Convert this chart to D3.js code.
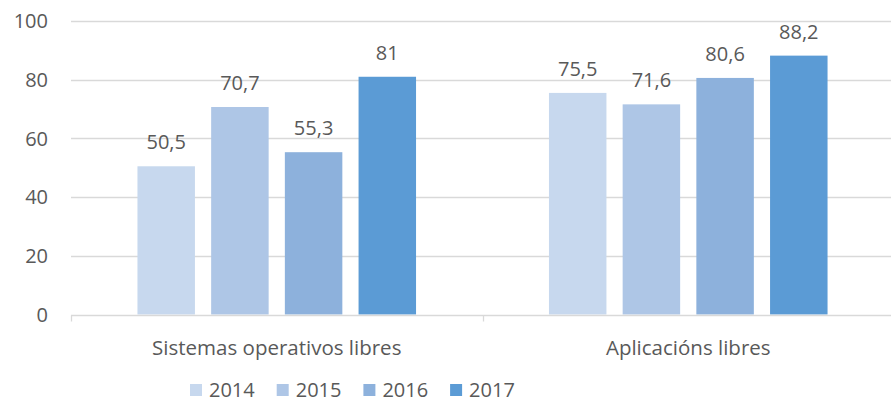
<!DOCTYPE html>
<html>
<head>
<meta charset="utf-8">
<script src="https://cdn.jsdelivr.net/npm/d3@7"></script>
<style>
  body { margin: 0; background: #fff; }
  text { font-family: "Open Sans", "Noto Sans", sans-serif; fill: #595959; }
</style>
</head>
<body>
<script>
var categories = ["Sistemas operativos libres", "Aplicacións libres"];
var years = ["2014", "2015", "2016", "2017"];
var values2014 = [50.5, 75.5];
var values2015 = [70.7, 71.6];
var values2016 = [55.3, 80.6];
var values2017 = [81, 88.2];
var yTicks = [0, 20, 40, 60, 80, 100];
var colors = ["#c7d8ee", "#aec6e6", "#8db1dc", "#5b9bd5"];

var series = [values2014, values2015, values2016, values2017];

var width = 891, height = 404;
var margin = {top: 21, left: 71, right: -3, bottom: 90};

var svg = d3.select("body")
  .append("svg")
  .attr("width", width)
  .attr("height", height);

var x0 = d3.scaleBand()
  .domain(categories)
  .range([margin.left, width - margin.right])
  .paddingInner(0.323)
  .paddingOuter(0.1615);

var x1 = d3.scaleBand()
  .domain(years)
  .range([0, x0.bandwidth()])
  .paddingInner(0.22);

var y = d3.scaleLinear()
  .domain([0, 100])
  .range([314.5, margin.top]);

var fmt = function(v){ return String(v).replace(".", ","); };

// gridlines
svg.append("g")
  .selectAll("line")
  .data(yTicks.filter(d => d > 0))
  .enter()
  .append("line")
  .attr("x1", margin.left)
  .attr("x2", width - margin.right)
  .attr("y1", d => Math.round(y(d)) + 0.5)
  .attr("y2", d => Math.round(y(d)) + 0.5)
  .attr("stroke", "#d9d9d9")
  .attr("stroke-width", 1.3);

// y labels
svg.append("g")
  .selectAll("text")
  .data(yTicks)
  .enter()
  .append("text")
  .attr("x", 48)
  .attr("y", d => y(d))
  .attr("dy", "0.36em")
  .attr("text-anchor", "end")
  .attr("font-size", 20)
  .text(d => d);

// bars
var groups = svg.append("g")
  .selectAll("g")
  .data(categories)
  .enter()
  .append("g")
  .attr("transform", d => "translate(" + x0(d) + ",0)");

groups.selectAll("rect")
  .data((c, i) => years.map((yr, j) => ({year: yr, value: series[j][i], j: j})))
  .enter()
  .append("rect")
  .attr("x", d => x1(d.year))
  .attr("y", d => y(d.value))
  .attr("width", x1.bandwidth())
  .attr("height", d => y(0) - y(d.value))
  .attr("fill", d => colors[d.j]);

groups.selectAll("text")
  .data((c, i) => years.map((yr, j) => ({year: yr, value: series[j][i]})))
  .enter()
  .append("text")
  .attr("x", d => x1(d.year) + x1.bandwidth() / 2)
  .attr("y", d => y(d.value) - 17)
  .attr("text-anchor", "middle")
  .attr("font-size", 20)
  .attr("fill", "#404040")
  .text(d => fmt(d.value));

// x axis
var axisY = Math.round(y(0)) + 0.5;
svg.append("line")
  .attr("x1", margin.left)
  .attr("x2", width - margin.right)
  .attr("y1", axisY)
  .attr("y2", axisY)
  .attr("stroke", "#d9d9d9")
  .attr("stroke-width", 1.3);

svg.append("g")
  .selectAll("line")
  .data([0, 1, 2])
  .enter()
  .append("line")
  .attr("x1", d => Math.round(margin.left + d * x0.step()) + 0.5)
  .attr("x2", d => Math.round(margin.left + d * x0.step()) + 0.5)
  .attr("y1", axisY)
  .attr("y2", axisY + 6)
  .attr("stroke", "#d9d9d9")
  .attr("stroke-width", 1.3);

svg.append("g")
  .selectAll("text")
  .data(categories)
  .enter()
  .append("text")
  .attr("x", d => x0(d) + x0.bandwidth() / 2)
  .attr("y", 355)
  .attr("text-anchor", "middle")
  .attr("font-size", 20.5)
  .text(d => d);

// legend
var legend = svg.append("g")
  .selectAll("g")
  .data(years)
  .enter()
  .append("g")
  .attr("transform", (d, i) => "translate(" + (190 + i * 86.7) + ",0)");

legend.append("rect")
  .attr("x", 0)
  .attr("y", 384)
  .attr("width", 12)
  .attr("height", 12)
  .attr("fill", (d, i) => colors[i]);

legend.append("text")
  .attr("x", 19)
  .attr("y", 397)
  .attr("font-size", 20)
  .text(d => d);
</script>
</body>
</html>
